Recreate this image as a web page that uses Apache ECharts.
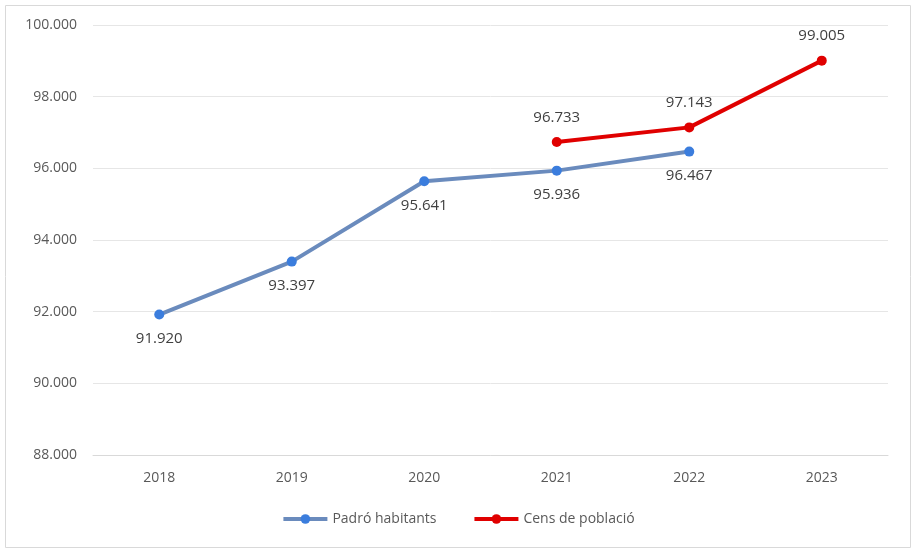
<!DOCTYPE html>
<html>
<head>
<meta charset="utf-8">
<script src="https://cdn.jsdelivr.net/npm/echarts@6/dist/echarts.min.js"></script>
<style>
  body { margin: 0; background: #fff; }
  #chart { width: 916px; height: 553px; }
</style>
</head>
<body>
<div id="chart"></div>
<script>
// years on the x axis
var years = ['2018', '2019', '2020', '2021', '2022', '2023'];
// Padró habitants (null where no data)
var padro = [91920, 93397, 95641, 95936, 96467, null];
// Cens de població
var cens = [null, null, null, 96733, 97143, 99005];

function fmt(v) {
    return String(v).replace(/\B(?=(\d{3})+(?!\d))/g, '.');
}

var chart = echarts.init(document.getElementById('chart'));
var font = 'Open Sans, Liberation Sans, sans-serif';

chart.setOption({
    animation: false,
    textStyle: { fontFamily: font },
    graphic: [{
        type: 'rect',
        shape: { x: 5.5, y: 5.5, width: 905, height: 542 },
        style: { fill: 'none', stroke: '#d9d9d9', lineWidth: 1 },
        silent: true
    }],
    grid: { left: 93, right: 28, top: 25, bottom: 98 },
    legend: {
        bottom: 22,
        left: 'center',
        itemWidth: 44,
        itemHeight: 12,
        itemGap: 36,
        textStyle: { color: '#595959', fontSize: 14, fontFamily: font },
        data: [
            { name: 'Padró habitants', itemStyle: { color: '#3b7ddd' }, lineStyle: { color: '#6a8bbd', width: 4 } },
            { name: 'Cens de població', itemStyle: { color: '#e00000' }, lineStyle: { color: '#e00000', width: 4 } }
        ]
    },
    xAxis: {
        type: 'category',
        data: years,
        boundaryGap: true,
        axisLine: { lineStyle: { color: '#d9d9d9' } },
        axisTick: { show: false },
        axisLabel: { color: '#595959', fontSize: 14, margin: 16 }
    },
    yAxis: {
        type: 'value',
        min: 88000,
        max: 100000,
        interval: 2000,
        axisLine: { show: false },
        axisTick: { show: false },
        splitLine: { lineStyle: { color: '#e6e6e6' } },
        axisLabel: { color: '#595959', fontSize: 14, margin: 16, formatter: fmt }
    },
    series: [
        {
            name: 'Padró habitants',
            type: 'line',
            data: padro,
            symbol: 'circle',
            symbolSize: 10,
            lineStyle: { color: '#6a8bbd', width: 4 },
            itemStyle: { color: '#3b7ddd' },
            label: {
                show: true,
                position: 'bottom',
                distance: 12,
                color: '#404040',
                fontSize: 15,
                formatter: function (p) { return fmt(p.value); }
            }
        },
        {
            name: 'Cens de població',
            type: 'line',
            data: cens,
            symbol: 'circle',
            symbolSize: 10,
            lineStyle: { color: '#e00000', width: 4 },
            itemStyle: { color: '#e00000' },
            label: {
                show: true,
                position: 'top',
                distance: 12,
                color: '#404040',
                fontSize: 15,
                formatter: function (p) { return fmt(p.value); }
            }
        }
    ]
});
</script>
</body>
</html>
